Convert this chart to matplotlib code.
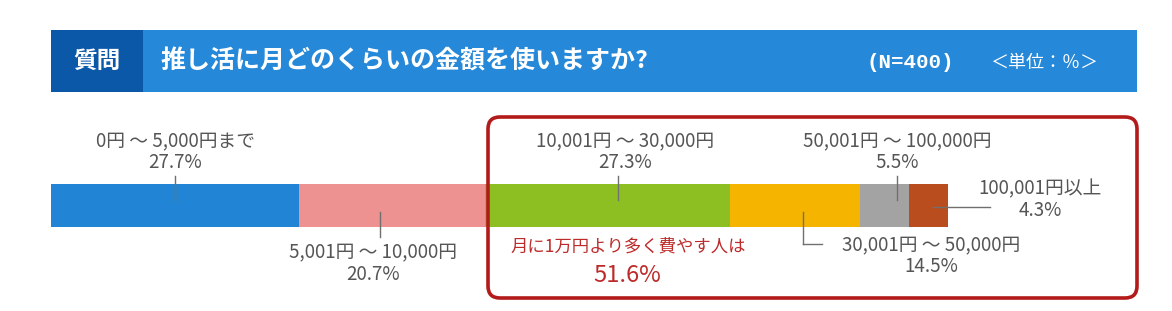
import matplotlib.pyplot as plt
from matplotlib.patches import Rectangle, FancyBboxPatch
from matplotlib.transforms import blended_transform_factory, offset_copy
import numpy as np

plt.rcParams['font.family'] = ['Noto Sans CJK JP', 'DejaVu Sans']

# data
categories = ["0円 ～ 5,000円まで", "5,001円 ～ 10,000円", "10,001円 ～ 30,000円",
              "30,001円 ～ 50,000円", "50,001円 ～ 100,000円", "100,001円以上"]
shares = [27.7, 20.7, 27.3, 14.5, 5.5, 4.3]
colors = ["#2284d4", "#ee9191", "#8dbf22", "#f4b400", "#a3a3a3", "#b94d1d"]
question = "推し活に月どのくらいの金額を使いますか?"
sample_note = "(N=400)"
unit_note = "＜単位：％＞"
highlight_text = "月に1万円より多く費やす人は"
highlight_value = 51.6

GRAY = "#555555"
LINE = "#707070"
RED = "#b31b1b"
FS = 13.5

W, H = 1172, 311
fig = plt.figure(figsize=(W / 100, H / 100), dpi=100)

# stacked bar
bx0, bx1, by0, by1 = 51, 948, 184, 227
bax = fig.add_axes([bx0 / W, 1 - by1 / H, (bx1 - bx0) / W, (by1 - by0) / H])
lefts = np.concatenate([[0], np.cumsum(shares)[:-1]])
bax.barh(0, shares, left=lefts, color=colors, height=1, edgecolor="none")
bax.set_xlim(0, sum(shares))
bax.set_ylim(-0.5, 0.5)
bax.axis("off")

# overlay in pixel coords (on top of the bar)
ax = fig.add_axes([0, 0, 1, 1])
ax.set_xlim(0, W)
ax.set_ylim(H, 0)
ax.axis("off")
ax.patch.set_visible(False)

# header band
ax.add_patch(Rectangle((51, 30), 1086, 62, color="#2688d8", lw=0))
ax.add_patch(Rectangle((51, 30), 92, 62, color="#0c58a8", lw=0))
ax.text(97, 61, "質問", color="white", fontsize=17, fontweight="bold",
        ha="center", va="center")
ax.text(160, 61, question, color="white", fontsize=18, fontweight="bold",
        ha="left", va="center")
ax.text(866, 63, sample_note, color="white", fontsize=15, fontweight="bold",
        family=["Liberation Mono", "Noto Sans CJK JP"], ha="left", va="center")
ax.text(990, 63, unit_note, color="white", fontsize=13, ha="left", va="center")

mids = lefts + np.array(shares) / 2
trans = blended_transform_factory(bax.transData, ax.transData)


def at(dx=0):
    return offset_copy(trans, fig=fig, x=dx, y=0, units="dots")


def label(i, y, dx=0):
    tr = at(dx)
    ax.text(mids[i], y, categories[i], transform=tr, color=GRAY, fontsize=FS,
            ha="center", va="center")
    ax.text(mids[i], y + 21, f"{shares[i]}%", transform=tr, color=GRAY,
            fontsize=FS, ha="center", va="center")


line_kw = dict(color=LINE, lw=1)

# labels above the bar
for i, dx_line, dx_text in [(0, 0, 0), (2, 10, 17), (4, 12, 12)]:
    label(i, 142, dx_text)
    ax.plot([mids[i], mids[i]], [176, 200], transform=at(dx_line), **line_kw)

# pink, below
label(1, 253, -19)
ax.plot([mids[1], mids[1]], [212, 237], transform=at(-12), **line_kw)

# orange, elbow to the right
ax.plot([mids[3], mids[3]], [212, 244], transform=at(8), **line_kw)
ax.plot([803, 822], [244, 244], **line_kw)
ax.text(931, 246, categories[3], color=GRAY, fontsize=FS, ha="center", va="center")
ax.text(931, 267, f"{shares[3]}%", color=GRAY, fontsize=FS, ha="center", va="center")

# brown, to the right
ax.plot([933, 990], [207, 207], **line_kw)
ax.text(1040, 189, categories[5], color=GRAY, fontsize=FS, ha="center", va="center")
ax.text(1040, 210, f"{shares[5]}%", color=GRAY, fontsize=FS, ha="center", va="center")

# highlight box
ax.add_patch(FancyBboxPatch((488, 117), 649, 181,
                            boxstyle="round,pad=0,rounding_size=12",
                            fill=False, ec=RED, lw=2.6))
ax.text(628, 247, highlight_text, color="#bd2a2a", fontsize=12.5,
        ha="center", va="center")
ax.text(627, 276, f"{highlight_value}%", color="#bd2a2a", fontsize=17,
        ha="center", va="center")

fig.savefig("out.png", dpi=100)
